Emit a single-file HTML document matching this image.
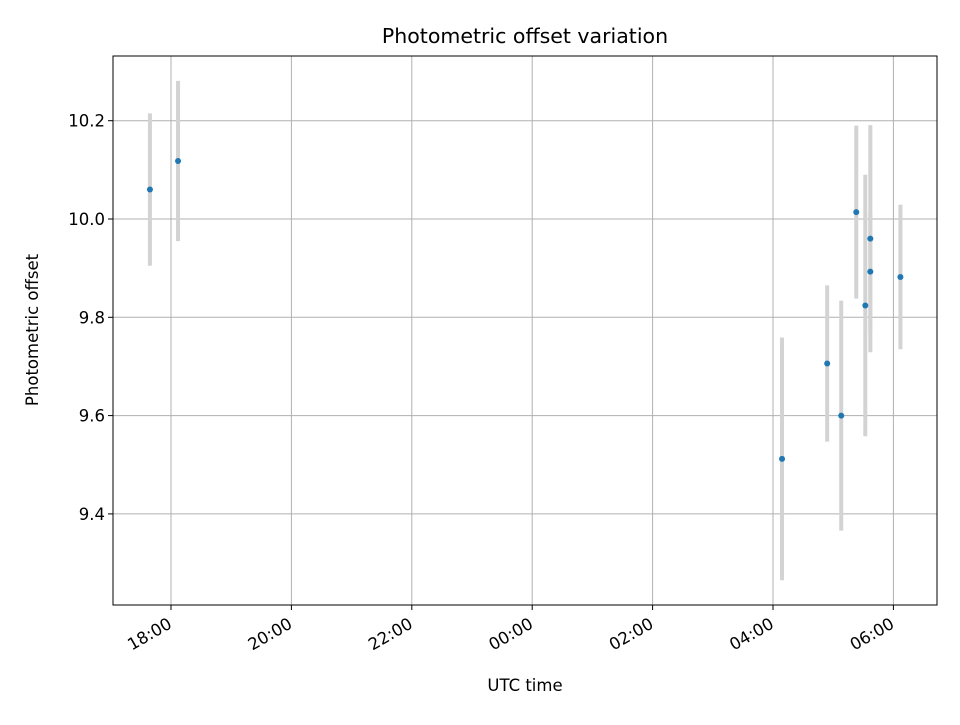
<!DOCTYPE html>
<html><head><meta charset="utf-8"><style>
body{margin:0;background:#fff;font-family:"Liberation Sans","DejaVu Sans",sans-serif}
svg text{font-family:"DejaVu Sans","Liberation Sans",sans-serif;fill:#000}
</style></head><body>
<svg id="c" width="960" height="720"></svg>
<script>
const times=["17:39","18:07","04:09","04:54","05:08","05:23","05:32","05:37","05:37","06:07"];
const offsets=[10.06,10.118,9.512,9.706,9.60,10.014,9.824,9.96,9.893,9.882];
const errors=[0.155,0.163,0.247,0.159,0.234,0.176,0.266,0.231,0.12,0.147];
const xTicks=["18:00","20:00","22:00","00:00","02:00","04:00","06:00"];
const yTicks=[9.4,9.6,9.8,10.0,10.2];
const NS="http://www.w3.org/2000/svg";
const svg=document.getElementById('c');
const L=113,R=937,T=56,B=605;
function hrs(s){let [h,m]=s.split(':').map(Number);let v=h+m/60;if(v<12)v+=24;return v-18;}
function xs(s){return 171+hrs(s)*60.2;}
function ys(v){return 219-(v-10)*491.5;}
function el(tag,attrs,name){const e=document.createElementNS(NS,tag);for(const k in attrs)e.setAttribute(k,attrs[k]);


svg.appendChild(e);return e;}
xTicks.forEach(t=>{const x=xs(t);
el('line',{x1:x,x2:x,y1:T,y2:B,stroke:'#b0b0b0','stroke-width':1},'x-gridline');
el('line',{x1:x,x2:x,y1:B,y2:B+5,stroke:'#000'},'x-tick');
const tx=el('text',{x:0,y:0,'font-size':16.5,'text-anchor':'end',transform:`translate(${x+2} ${B+22}) rotate(-30)`},'x-tick-label');tx.textContent=t;});
yTicks.forEach(v=>{const y=ys(v);
el('line',{x1:L,x2:R,y1:y,y2:y,stroke:'#b0b0b0','stroke-width':1},'y-gridline');
el('line',{x1:L-5,x2:L,y1:y,y2:y,stroke:'#000'},'y-tick');
const tx=el('text',{x:L-8,y:y+6,'font-size':16.5,'text-anchor':'end'},'y-tick-label');tx.textContent=v.toFixed(1);});
times.forEach((t,i)=>{const x=xs(t);
el('line',{x1:x,x2:x,y1:ys(offsets[i]+errors[i]),y2:ys(offsets[i]-errors[i]),stroke:'#d3d3d3','stroke-width':4},'error-bar');});
times.forEach((t,i)=>{el('circle',{cx:xs(t),cy:ys(offsets[i]),r:3,fill:'#1f77b4'},'data-point');});
el('rect',{x:L,y:T,width:R-L,height:B-T,fill:'none',stroke:'#000','stroke-width':1},'plot-frame');
let t1=el('text',{x:525,y:43,'font-size':20.5,'text-anchor':'middle'},'chart-title');t1.textContent='Photometric offset variation';
let t2=el('text',{x:525,y:691,'font-size':16.5,'text-anchor':'middle'},'x-axis-title');t2.textContent='UTC time';
let t3=el('text',{x:38,y:330,'font-size':16.5,'text-anchor':'middle',transform:'rotate(-90 38 330)'},'y-axis-title');t3.textContent='Photometric offset';
</script>
</body></html>
